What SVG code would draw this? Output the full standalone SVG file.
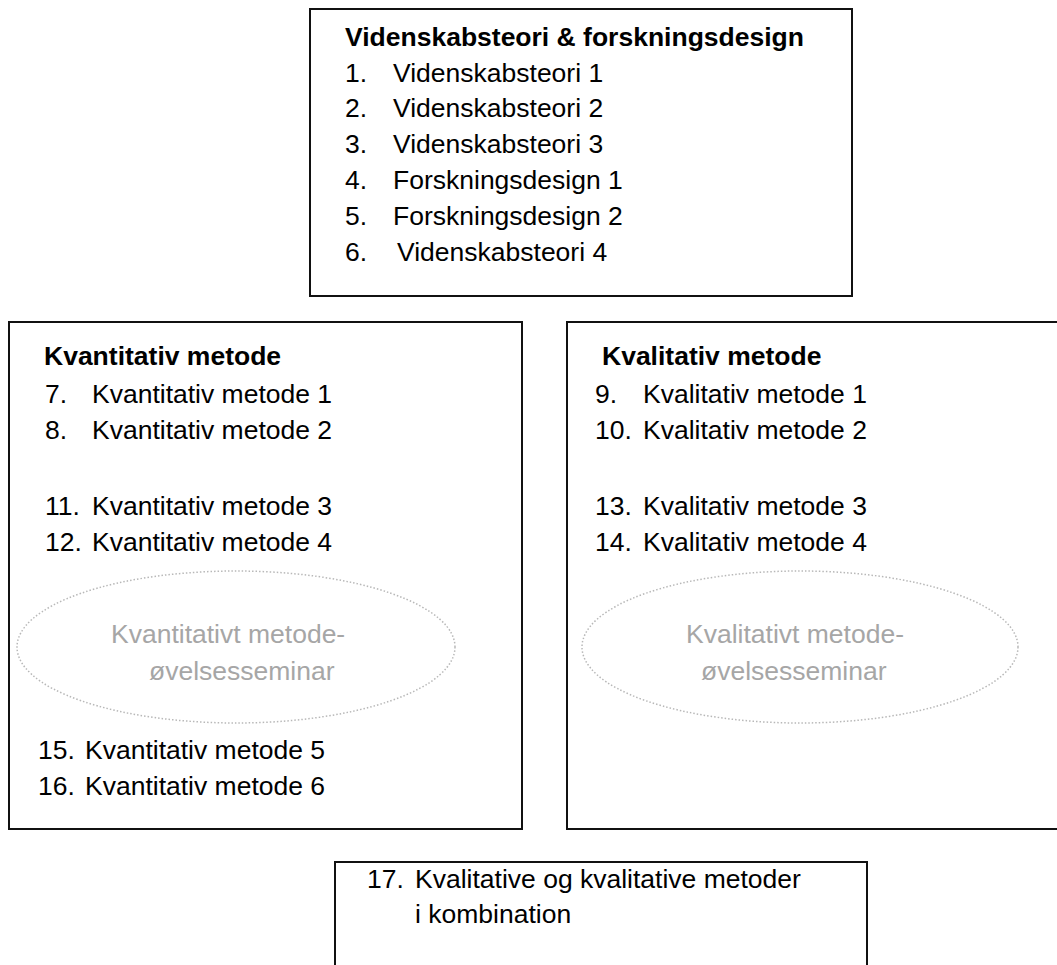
<svg xmlns="http://www.w3.org/2000/svg" width="1057" height="965" viewBox="0 0 1057 965">
<style>
.box{fill:#ffffff;stroke:#111111;stroke-width:2}
.t{font-family:"Liberation Sans",Arial,sans-serif;font-size:26.5px;fill:#000000}
.b{font-weight:bold}
.ov{fill:none;stroke:#b8b8b8;stroke-width:1.5;stroke-dasharray:1.5 2}
.g{font-family:"Liberation Sans",Arial,sans-serif;font-size:26.5px;fill:#a6a6a6}
</style>
<rect width="1057" height="965" fill="#ffffff"/>
<g id="connectors"></g>
<g id="node-videnskabsteori">
<rect class="box" x="310" y="9" width="542" height="287"/>
<text class="t b" x="345" y="45.5">Videnskabsteori &amp; forskningsdesign</text>
<text class="t" x="345" y="81.5">1.</text><text class="t" x="393" y="81.5">Videnskabsteori 1</text>
<text class="t" x="345" y="117">2.</text><text class="t" x="393" y="117">Videnskabsteori 2</text>
<text class="t" x="345" y="153">3.</text><text class="t" x="393" y="153">Videnskabsteori 3</text>
<text class="t" x="345" y="189">4.</text><text class="t" x="393" y="189">Forskningsdesign 1</text>
<text class="t" x="345" y="225">5.</text><text class="t" x="393" y="225">Forskningsdesign 2</text>
<text class="t" x="345" y="261">6.</text><text class="t" x="397" y="261">Videnskabsteori 4</text>
</g>
<g id="node-kvantitativ">
<rect class="box" x="9" y="322" width="513" height="507"/>
<text class="t b" x="44" y="364.5">Kvantitativ metode</text>
<text class="t" x="45" y="402.5">7.</text><text class="t" x="92" y="402.5">Kvantitativ metode 1</text>
<text class="t" x="45" y="438.5">8.</text><text class="t" x="92" y="438.5">Kvantitativ metode 2</text>
<text class="t" x="45" y="514.5">11.</text><text class="t" x="92" y="514.5">Kvantitativ metode 3</text>
<text class="t" x="45" y="550.5">12.</text><text class="t" x="92" y="550.5">Kvantitativ metode 4</text>
<g id="node-kvant-seminar">
<ellipse class="ov" cx="236" cy="647" rx="219" ry="76"/>
<text class="g" x="111" y="643">Kvantitativt metode-</text>
<text class="g" x="149" y="680">øvelsesseminar</text>
</g>
<text class="t" x="38" y="759">15.</text><text class="t" x="85" y="759">Kvantitativ metode 5</text>
<text class="t" x="38" y="795">16.</text><text class="t" x="85" y="795">Kvantitativ metode 6</text>
</g>
<g id="node-kvalitativ">
<rect class="box" x="567" y="322" width="520" height="507"/>
<text class="t b" x="602" y="364.5">Kvalitativ metode</text>
<text class="t" x="595" y="402.5">9.</text><text class="t" x="643" y="402.5">Kvalitativ metode 1</text>
<text class="t" x="595" y="438.5">10.</text><text class="t" x="643" y="438.5">Kvalitativ metode 2</text>
<text class="t" x="595" y="514.5">13.</text><text class="t" x="643" y="514.5">Kvalitativ metode 3</text>
<text class="t" x="595" y="550.5">14.</text><text class="t" x="643" y="550.5">Kvalitativ metode 4</text>
<g id="node-kval-seminar">
<ellipse class="ov" cx="800" cy="647" rx="218" ry="76"/>
<text class="g" x="686" y="643">Kvalitativt metode-</text>
<text class="g" x="701" y="680">øvelsesseminar</text>
</g>
</g>
<g id="node-kombination">
<rect class="box" x="335" y="862" width="532" height="120"/>
<text class="t" x="367" y="887.5">17.</text><text class="t" x="415" y="887.5">Kvalitative og kvalitative metoder</text>
<text class="t" x="415" y="923">i kombination</text>
</g>
</svg>
